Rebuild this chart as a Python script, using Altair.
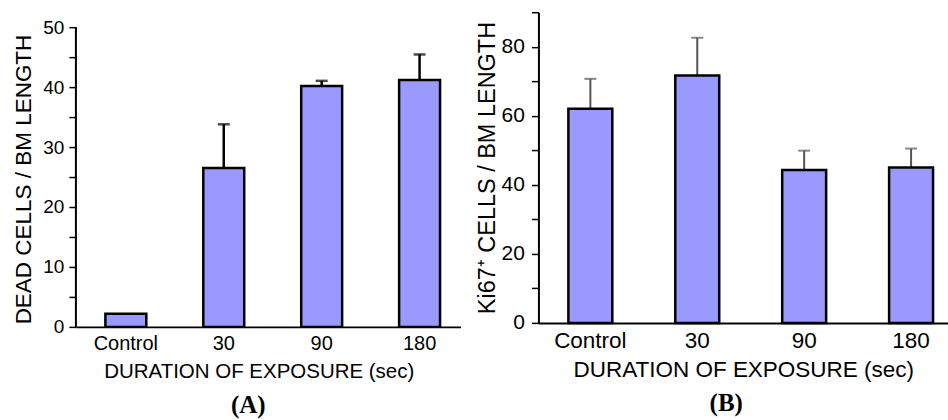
import altair as alt
import pandas as pd

categories = ["Control", "30", "90", "180"]
dead_mean = [2.2, 26.5, 40.2, 41.2]
dead_err = [0.0, 7.3, 0.85, 4.25]
ki_mean = [62.0, 71.7, 44.3, 45.0]
ki_err = [8.7, 10.9, 5.6, 5.5]

dead_ticks = [0, 5, 10, 15, 20, 25, 30, 35, 40, 45, 50]
ki_ticks = [0, 10, 20, 30, 40, 50, 60, 70, 80, 90]

BAR = "#9999ff"
FONT = "Liberation Sans"

dead_df = pd.DataFrame({"cat": categories, "mean": dead_mean, "err": dead_err})
ki_df = pd.DataFrame({"cat": categories, "mean": ki_mean, "err": ki_err})
axis_line_df = pd.DataFrame({"y0": [dead_ticks[0]], "y1": [dead_ticks[-1]]})


def panel(df, width, height, ydomain, yticks, label_every, ytitle, pinner, pouter, align,
          err_color, err_width, panel_title, title_dx, title_offset,
          ylab_fs, ytitle_fs, ytitle_pad, ylab_pad, ytitle_y,
          xlab_fs, xtitle_fs, xlab_pad, xtitle_pad, xtitle_x, show_domain):
    xaxis_kw = dict(
        title="DURATION OF EXPOSURE (sec)",
        labelAngle=0,
        ticks=False,
        labelPadding=xlab_pad,
        labelFontSize=xlab_fs,
        labelFont=FONT,
        labelColor="black",
        titleFontSize=xtitle_fs,
        titleFont=FONT,
        titleFontWeight="normal",
        titleColor="black",
        titlePadding=xtitle_pad,
        domainColor="black",
        domainWidth=2,
    )
    if xtitle_x is not None:
        xaxis_kw["titleX"] = xtitle_x
    xenc = alt.X(
        "cat:N",
        sort=categories,
        scale=alt.Scale(paddingInner=pinner, paddingOuter=pouter, align=align),
        axis=alt.Axis(**xaxis_kw),
    )
    yscale = alt.Scale(domain=ydomain, nice=False, zero=True)
    yaxis_kw = dict(
        title=ytitle,
        values=yticks,
        labelExpr=f"datum.value % {label_every} == 0 ? datum.label : ''",
        grid=False,
        domain=show_domain,
        domainColor="black",
        domainWidth=2,
        tickColor="black",
        tickWidth=1.5,
        tickSize=7,
        labelPadding=ylab_pad,
        labelFontSize=ylab_fs,
        labelFont=FONT,
        labelColor="black",
        titleFontSize=ytitle_fs,
        titleFont=FONT,
        titleFontWeight="normal",
        titleColor="black",
        titlePadding=ytitle_pad,
    )
    if ytitle_y is not None:
        yaxis_kw["titleY"] = ytitle_y
    yaxis = alt.Axis(**yaxis_kw)
    base = alt.Chart(df).transform_calculate(upper="datum.mean + datum.err")
    err = base.transform_filter("datum.err > 0").mark_rule(
        color=err_color, strokeWidth=err_width
    ).encode(x=xenc, y=alt.Y("mean:Q", scale=yscale, axis=yaxis), y2="upper:Q")
    bars = base.mark_bar(fill=BAR, stroke="black", strokeWidth=2.5).encode(
        x=xenc, y=alt.Y("mean:Q", scale=yscale, axis=yaxis)
    )
    cap = base.transform_filter("datum.err > 0").mark_tick(
        color=err_color, thickness=err_width, size=12
    ).encode(x=xenc, y=alt.Y("upper:Q", scale=yscale, axis=yaxis))
    layers = [err, bars, cap]
    if not show_domain:
        rule = alt.Chart(axis_line_df).mark_rule(color="black", strokeWidth=2).encode(
            x=alt.value(0), y=alt.Y("y0:Q", scale=yscale, axis=yaxis), y2="y1:Q"
        )
        layers.append(rule)
    return alt.layer(*layers).properties(
        width=width,
        height=height,
        title=alt.TitleParams(
            text=panel_title,
            orient="bottom",
            font="Liberation Serif",
            fontSize=25,
            fontWeight="bold",
            color="black",
            anchor="middle",
            dx=title_dx,
            offset=title_offset,
        ),
    )


left = panel(dead_df, 385, 315, [0, 52.5], dead_ticks, 10, "DEAD CELLS / BM LENGTH",
             0.582, 0.255, 0.59, "black", 2.5, "(A)", -20, 11,
             19, 22.5, 7, 5, 167,
             20, 20.5, 7, 8, 183, False)
right = panel(ki_df, 410, 311, [0, 90], ki_ticks, 20, "Ki67\u207a CELLS / BM LENGTH",
              0.589, 0.21, 0.667, "#555555", 2, "(B)", -17, 10,
              21, 23.5, 2, 7, None,
              22.5, 22.5, 7, 6, None, True)

chart = (
    alt.hconcat(left, right, spacing=14)
    .properties(padding={"left": 12, "top": 11, "right": 0, "bottom": 0}, background="white")
    .configure_view(stroke=None)
)

chart.save("out.html", embed_options={"renderer": "svg", "actions": False})
